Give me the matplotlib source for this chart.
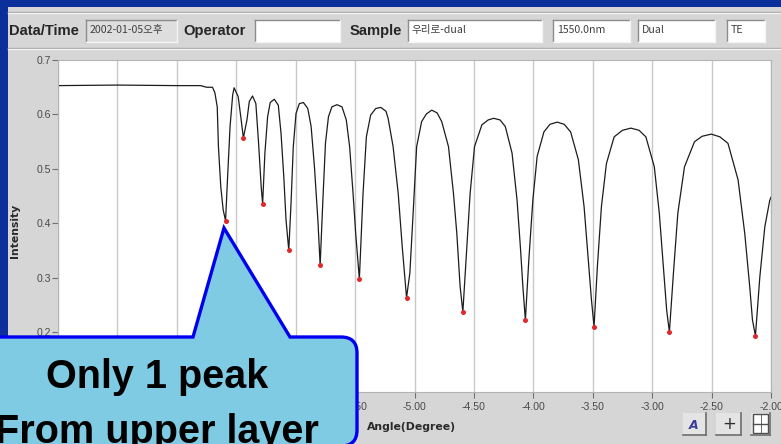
import matplotlib

matplotlib.use("Agg")
import matplotlib.pyplot as plt
from matplotlib.patches import Rectangle, PathPatch
from matplotlib.path import Path

# --- scan: angle (deg) vs intensity ---------------------------------------- #
angle = [
    -8.00, -7.50, -7.00, -6.80, -6.75, -6.70,
    -6.68, -6.66, -6.65, -6.63, -6.61, -6.59,
    -6.574, -6.552, -6.53, -6.518,
    -6.484, -6.462, -6.44,
    -6.41, -6.39, -6.363,
    -6.335, -6.312, -6.29, -6.278,
    -6.259, -6.236, -6.214, -6.18,
    -6.146, -6.123, -6.10, -6.081, -6.058,
    -6.039, -6.02, -5.997, -5.969, -5.935,
    -5.898, -5.87, -5.842, -5.813, -5.794,
    -5.771, -5.749, -5.724, -5.695, -5.653,
    -5.61, -5.574, -5.546, -5.517, -5.495, -5.464,
    -5.433, -5.405, -5.369, -5.326, -5.284,
    -5.24, -5.222, -5.18, -5.137, -5.103, -5.067,
    -5.039, -5.01, -4.982, -4.94, -4.90, -4.855,
    -4.81, -4.771, -4.714, -4.672, -4.644, -4.616, -4.593,
    -4.56, -4.532, -4.495, -4.433, -4.38, -4.334,
    -4.28, -4.236, -4.179, -4.137, -4.109, -4.086, -4.067,
    -4.038, -4.004, -3.968, -3.911, -3.86, -3.799,
    -3.74, -3.686, -3.621, -3.573, -3.537, -3.511, -3.489,
    -3.461, -3.427, -3.385, -3.32, -3.25, -3.179,
    -3.11, -3.053, -2.982, -2.94, -2.906, -2.878, -2.855,
    -2.821, -2.784, -2.728, -2.644, -2.58, -2.503,
    -2.43, -2.362, -2.277, -2.221, -2.179, -2.156, -2.131,
    -2.094, -2.052, -2.01, -1.98,
]
intensity = [
    0.653, 0.654, 0.653, 0.653, 0.650, 0.650,
    0.640, 0.614, 0.541, 0.467, 0.425, 0.405,
    0.480, 0.578, 0.636, 0.649,
    0.633, 0.596, 0.557,
    0.590, 0.624, 0.634,
    0.620, 0.547, 0.467, 0.436,
    0.529, 0.596, 0.622, 0.628,
    0.617, 0.565, 0.486, 0.406, 0.351,
    0.437, 0.541, 0.602, 0.620, 0.622,
    0.611, 0.578, 0.504, 0.406, 0.324,
    0.443, 0.548, 0.596, 0.614, 0.618,
    0.614, 0.590, 0.541, 0.455, 0.382, 0.298,
    0.455, 0.559, 0.599, 0.611, 0.613,
    0.606, 0.593, 0.541, 0.455, 0.357, 0.264,
    0.309, 0.425, 0.541, 0.587, 0.601, 0.608,
    0.603, 0.587, 0.541, 0.455, 0.382, 0.284, 0.238,
    0.357, 0.455, 0.541, 0.581, 0.590, 0.593,
    0.590, 0.578, 0.529, 0.443, 0.357, 0.278, 0.223,
    0.333, 0.443, 0.523, 0.568, 0.582, 0.586,
    0.582, 0.568, 0.517, 0.431, 0.333, 0.260, 0.211,
    0.321, 0.431, 0.510, 0.559, 0.571, 0.575,
    0.571, 0.559, 0.504, 0.419, 0.321, 0.241, 0.201,
    0.309, 0.419, 0.504, 0.550, 0.560, 0.564,
    0.559, 0.547, 0.480, 0.382, 0.284, 0.223, 0.194,
    0.302, 0.394, 0.443, 0.458,
]

# detected minima (red dots)
dip_angle = [-6.59, -6.44, -6.278, -6.058, -5.794, -5.464,
             -5.067, -4.593, -4.067, -3.489, -2.855, -2.131]
dip_intensity = [0.405, 0.557, 0.436, 0.351, 0.324, 0.298,
                 0.264, 0.238, 0.223, 0.211, 0.201, 0.194]

x_ticks = [-8.0, -7.5, -7.0, -6.5, -6.0, -5.5, -5.0,
           -4.5, -4.0, -3.5, -3.0, -2.5, -2.0]
y_ticks = [0.2, 0.3, 0.4, 0.5, 0.6, 0.7]

# header fields of the measurement window
header_labels = ["Data/Time", "Operator", "Sample"]
header_values = ["2002-01-05오후", "", "우리로-dual", "1550.0nm", "Dual", "TE"]

callout_lines = ["Only 1 peak", "From upper layer"]

W, H = 781, 444
BLUE = "#0b2f9b"
GREY = "#d6d6d6"
CJK = ["Noto Sans CJK KR", "DejaVu Sans"]


def px_rect(left, top, right, bottom):
    return [left / W, 1 - bottom / H, (right - left) / W, (bottom - top) / H]


fig = plt.figure(figsize=(W / 100, H / 100), dpi=100, facecolor=BLUE)

# --- window chrome (background layer) -------------------------------------- #
bg = fig.add_axes([0, 0, 1, 1], zorder=0)
bg.set_xlim(0, W)
bg.set_ylim(H, 0)
bg.axis("off")
bg.add_patch(Rectangle((8, 7), W - 8, H - 7, fc=GREY, ec="none"))
bg.plot([8, W], [12, 12], color="#a4a4a4", lw=1)
bg.plot([8, W], [13, 13], color="#f2f2f2", lw=1)
bg.plot([8, W], [48, 48], color="#a4a4a4", lw=1)
bg.plot([8, W], [49, 49], color="#f2f2f2", lw=1)

label_x = [9, 183, 350]
for x, txt in zip(label_x, header_labels):
    bg.text(x, 31, txt, fontsize=10.6, fontweight="bold", family="Liberation Sans",
            color="#262626", va="center", ha="left")

boxes = [(86, 177), (255, 340), (408, 542), (553, 630), (638, 715), (727, 765)]
for i, ((l, r), txt) in enumerate(zip(boxes, header_values)):
    face = "#dedede" if i == 0 else "white"
    bg.add_patch(Rectangle((l, 20), r - l, 22, fc=face, ec="none"))
    bg.plot([l, r], [20, 20], color="#8c8c8c", lw=1)
    bg.plot([l, l], [20, 42], color="#8c8c8c", lw=1)
    bg.plot([l, r], [42, 42], color="#f4f4f4", lw=1)
    bg.plot([r, r], [20, 42], color="#f4f4f4", lw=1)
    if txt:
        bg.text(l + 4, 30, txt, fontsize=7.6, family=CJK, color="#404040",
                va="center", ha="left")

# toolbar buttons bottom right
for l, r in [(683, 706), (716, 741), (751, 770)]:
    bg.add_patch(Rectangle((l, 413), r - l, 22, fc="#e4e4e4", ec="none"))
    bg.plot([l, r], [435, 435], color="#6e6e6e", lw=1.2)
    bg.plot([r, r], [413, 435], color="#6e6e6e", lw=1.2)
bg.text(694, 425, "A", fontsize=9, fontstyle="italic", fontweight="bold",
        color="#3a3a9a", ha="center", va="center")
bg.text(729, 424, "+", fontsize=12, color="#303030", ha="center", va="center")
bg.add_patch(Rectangle((753, 414), 15, 19, fc="white", ec="#505050", lw=1))
bg.plot([753, 768], [423.5, 423.5], color="#505050", lw=1)
bg.plot([760.5, 760.5], [414, 433], color="#505050", lw=0.6)

# --- the scan -------------------------------------------------------------- #
ax = fig.add_axes(px_rect(58, 60, 771, 392), zorder=1)
ax.set_facecolor("white")
ax.plot(angle, intensity, color="#1c1c1c", lw=0.9)
ax.plot(dip_angle, dip_intensity, "o", color="#e2282a", ms=3.6, mec="none")

ax.set_xlim(-8.0, -2.0)
ax.set_ylim(0.7 - 332 / 545, 0.7)
ax.set_xticks(x_ticks)
ax.set_xticklabels([f"{t:.2f}" for t in x_ticks])
ax.set_yticks(y_ticks)
ax.set_yticklabels([f"{t:.1f}" for t in y_ticks])
ax.grid(True, axis="x", color="#c9c9c9", lw=1)
ax.set_axisbelow(True)
ax.tick_params(axis="both", direction="out", length=4, width=0.8, color="#707070",
               labelcolor="#4a4a4a", labelsize=7.6)
ax.tick_params(axis="x", pad=3)
ax.tick_params(axis="y", pad=1)
for lab in ax.get_xticklabels() + ax.get_yticklabels():
    lab.set_family("Liberation Sans")
for s in ax.spines.values():
    s.set_color("#b4b4b4")
    s.set_linewidth(0.8)

ax.set_ylabel("Intensity", fontsize=7.8, fontweight="bold", color="#2a2a2a")
ax.yaxis.set_label_coords((20 - 58) / 713, (392 - 231) / 332)
ax.set_xlabel("Angle(Degree)", fontsize=7.8, fontweight="bold", color="#2a2a2a")
ax.xaxis.set_label_coords((411 - 58) / 713, (392 - 422) / 332)

# --- speech-bubble callout (foreground) ------------------------------------ #
fg = fig.add_axes([0, 0, 1, 1], zorder=5)
fg.set_xlim(0, W)
fg.set_ylim(H, 0)
fg.axis("off")
verts = [(-20, 337), (193, 337), (224, 228), (290, 337), (341, 337),
         (357, 337), (357, 353), (357, 430), (357, 446), (341, 446),
         (-20, 446), (-20, 337)]
codes = [Path.MOVETO, Path.LINETO, Path.LINETO, Path.LINETO, Path.LINETO,
         Path.CURVE3, Path.CURVE3, Path.LINETO, Path.CURVE3, Path.CURVE3,
         Path.LINETO, Path.CLOSEPOLY]
fg.add_patch(PathPatch(Path(verts, codes), fc="#7fcbe4", ec="#0000f0", lw=2.4,
                       joinstyle="miter"))
for y, txt in zip([377, 432], callout_lines):
    fg.text(157, y, txt, fontsize=28.5, fontweight="bold", family="Liberation Sans",
            color="black", ha="center", va="center")

fig.savefig("out.png", dpi=100, facecolor=BLUE)
plt.close(fig)
